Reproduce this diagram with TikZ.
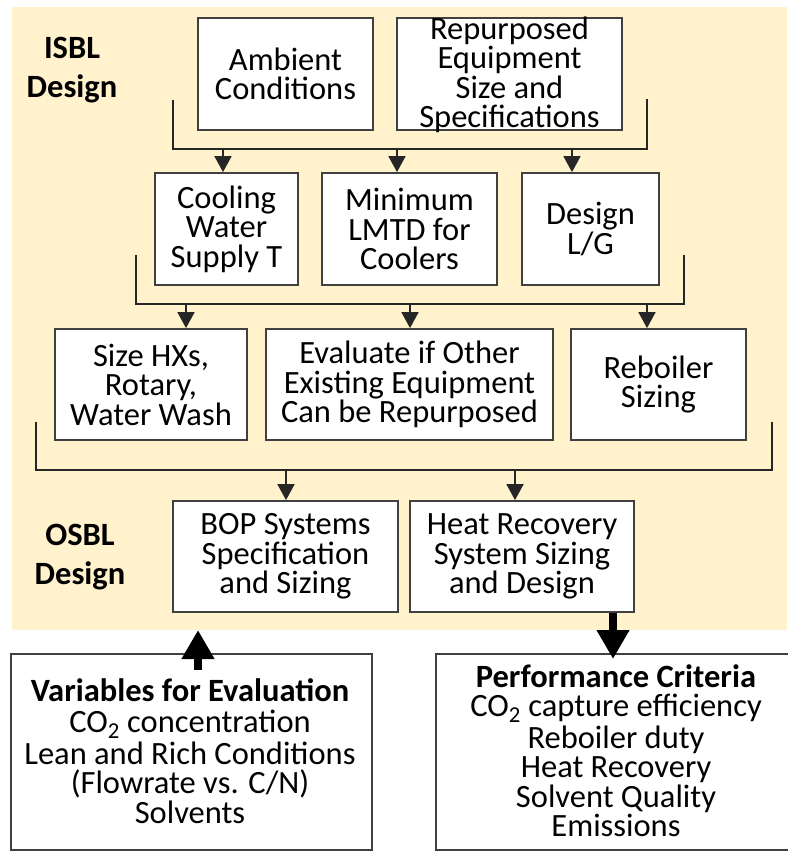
\documentclass[tikz,border=0pt]{standalone}
\usepackage{fontspec}
\setmainfont{Carlito}
\usetikzlibrary{arrows.meta}
\definecolor{beige}{HTML}{FFF2CC}
\begin{document}
\begin{tikzpicture}[x=1pt,y=-1pt,
  box/.style={draw=black!75, line width=1.8pt, fill=white, inner sep=0pt, align=center,
              font=\fontsize{32.5}{29.5}\selectfont},
  txt/.style={align=center, inner sep=0pt, font=\fontsize{32.5}{29.5}\selectfont},
  lbl/.style={align=center, inner sep=0pt, font=\fontsize{32.5}{39}\selectfont\bfseries},
  conn/.style={draw=black!85, line width=1.8pt},
  arr/.style={conn, -{Triangle[width=17pt,length=16pt]}},
  bigarr/.style={draw=black, line width=8pt, -{Triangle[width=31pt,length=29pt]}},
]
\useasboundingbox (0,0) rectangle (787,851);
\fill[beige] (12,7) rectangle (787,630);

% labels
\node[lbl, anchor=north] (isbl) at (72,37) {ISBL\\Design};
\node[lbl, anchor=north] (osbl) at (80,524) {OSBL\\Design};

% row 1
\node[box, minimum width=175pt, minimum height=112pt] (amb) at (285.5,74) {Ambient\\Conditions};
\node[box, minimum width=225pt, minimum height=112pt] (rep) at (509.5,74) {};
\node[txt] (reptext) at (509.5,75) {Repurposed\\Equipment\\Size and\\Specifications};

% row 2
\node[box, minimum width=143pt, minimum height=112pt] (cool) at (226.5,229) {Cooling\\Water\\Supply T};
\node[box, minimum width=175pt, minimum height=112pt] (lmtd) at (409.5,229) {Minimum\\LMTD for\\Coolers};
\node[box, minimum width=137pt, minimum height=112pt] (lg) at (590.5,229) {Design\\L/G};

% row 3
\node[box, minimum width=192pt, minimum height=111pt] (hx) at (151,384.5) {Size HXs,\\Rotary,\\Water Wash};
\node[box, minimum width=287pt, minimum height=111pt] (eval) at (409.5,384.5) {Evaluate if Other\\Existing Equipment\\Can be Repurposed};
\node[box, minimum width=175pt, minimum height=111pt] (reb) at (658.5,384.5) {Reboiler\\Sizing};

% row 4
\node[box, minimum width=225pt, minimum height=111pt] (bop) at (285.5,556.5) {BOP Systems\\Specification\\and Sizing};
\node[box, minimum width=224pt, minimum height=111pt] (heat) at (522,556.5) {Heat Recovery\\System Sizing\\and Design};

% bottom boxes
\node[box, minimum width=361pt, minimum height=196pt] (var) at (191.5,752) {};
\node[box, minimum width=364pt, minimum height=196pt] (perf) at (618,752) {};
\node[txt, anchor=north] (vartext) at (190,678) {\textbf{Variables for Evaluation}\\[2pt]CO\textsubscript{2} concentration\\[2pt]Lean and Rich Conditions\\(Flowrate vs. C/N)\\Solvents};
\node[txt, anchor=north] (perftext) at (616,664) {\textbf{Performance Criteria}\\CO\textsubscript{2} capture efficiency\\[2pt]Reboiler duty\\Heat Recovery\\Solvent Quality\\Emissions};

% bracket 1
\coordinate (b1a) at (173,100);
\coordinate (b1b) at (173,149);
\coordinate (b1c) at (647,149);
\coordinate (b1d) at (647,99);
\draw[conn] (b1a) -- (b1b) -- (b1c) -- (b1d);
\coordinate (a11) at (223,149);
\coordinate (a12) at (397,149);
\coordinate (a13) at (572,149);
\draw[arr] (a11) -- (a11 |- cool.north);
\draw[arr] (a12) -- (a12 |- lmtd.north);
\draw[arr] (a13) -- (a13 |- lg.north);

% bracket 2
\coordinate (b2a) at (136,255);
\coordinate (b2b) at (136,304);
\coordinate (b2c) at (684,304);
\coordinate (b2d) at (684,255);
\draw[conn] (b2a) -- (b2b) -- (b2c) -- (b2d);
\coordinate (a21) at (186,304);
\coordinate (a22) at (410,304);
\coordinate (a23) at (647,304);
\draw[arr] (a21) -- (a21 |- hx.north);
\draw[arr] (a22) -- (a22 |- eval.north);
\draw[arr] (a23) -- (a23 |- reb.north);

% bracket 3
\coordinate (b3a) at (36,422);
\coordinate (b3b) at (36,470);
\coordinate (b3c) at (772,470);
\coordinate (b3d) at (772,422);
\draw[conn] (b3a) -- (b3b) -- (b3c) -- (b3d);
\coordinate (a31) at (286,470);
\coordinate (a32) at (515,470);
\draw[arr] (a31) -- (a31 |- bop.north);
\draw[arr] (a32) -- (a32 |- heat.north);

% thick arrows
\coordinate (upstart) at (198,670);
\coordinate (uptip) at (198,630);
\draw[bigarr] (upstart) -- (uptip);
\coordinate (downtip) at (613,659);
\draw[bigarr] (heat.south -| downtip) -- (downtip);
\end{tikzpicture}
\end{document}
